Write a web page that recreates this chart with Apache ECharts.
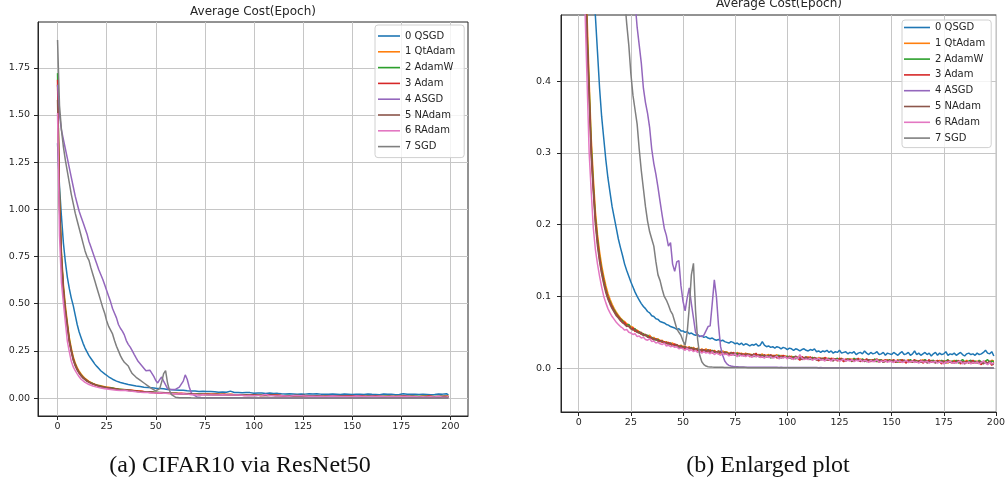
<!DOCTYPE html>
<html><head><meta charset="utf-8">
<script src="https://cdn.jsdelivr.net/npm/echarts@6/dist/echarts.min.js"></script>
<style>html,body{margin:0;padding:0;background:#fff}#c{width:1008px;height:485px}</style>
</head><body><div id="c"></div>
<script>
const seriesNames = ['0 QSGD','1 QtAdam','2 AdamW','3 Adam','4 ASGD','5 NAdam','6 RAdam','7 SGD'];
const seriesColors = ['#1f77b4','#ff7f0e','#2ca02c','#d62728','#9467bd','#8c564b','#e377c2','#7f7f7f'];
const xTicks = [0,25,50,75,100,125,150,175,200];
const yTicksLeft = [0,0.25,0.5,0.75,1.0,1.25,1.5,1.75];
const yTicksRight = [0,0.1,0.2,0.3,0.4];
const titleText = 'Average Cost(Epoch)';
const captionLeft = '(a) CIFAR10 via ResNet50';
const captionRight = '(b) Enlarged plot';

const qsgd = [
1.35,1.12,0.96,0.82,0.72,0.64,0.58,0.53,0.49,0.44,
0.39,0.35,0.32,0.29,0.265,0.245,0.225,0.21,0.195,0.18,
0.168,0.157,0.145,0.136,0.128,0.12,0.113,0.106,0.100,0.095,
0.090,0.086,0.083,0.079,0.077,0.073,0.072,0.069,0.068,0.065,
0.064,0.063,0.061,0.060,0.058,0.057,0.056,0.054,0.055,0.052,
0.052,0.050,0.051,0.048,0.049,0.047,0.046,0.047,0.044,0.045,
0.043,0.044,0.042,0.041,0.042,0.040,0.039,0.040,0.038,0.039,
0.037,0.036,0.035,0.037,0.036,0.034,0.035,0.033,0.035,0.032,
0.034,0.033,0.031,0.033,0.032,0.034,0.031,0.032,0.037,0.032,
0.030,0.031,0.029,0.030,0.028,0.030,0.029,0.027,0.029,0.028,
0.026,0.028,0.027,0.025,0.027,0.026,0.024,0.026,0.027,0.025,
0.024,0.026,0.025,0.027,0.023,0.024,0.022,0.024,0.023,0.025,
0.022,0.024,0.021,0.023,0.022,0.025,0.021,0.022,0.023,0.020,
0.022,0.021,0.023,0.019,0.021,0.022,0.020,0.024,0.021,0.019,
0.022,0.020,0.021,0.023,0.019,0.020,0.022,0.018,0.021,0.020,
0.019,0.022,0.020,0.018,0.021,0.023,0.019,0.020,0.022,0.018,
0.020,0.024,0.019,0.021,0.018,0.020,0.022,0.019,0.021,0.017,
0.020,0.022,0.018,0.021,0.019,0.020,0.023,0.018,0.020,0.019,
0.021,0.018,0.020,0.022,0.019,0.017,0.020,0.021,0.019,0.020,
0.018,0.021,0.019,0.020,0.022,0.025,0.021,0.020,0.023,0.017];

const qtadam = [
1.66,1.06,0.77,0.60,0.49,0.40,0.32,0.265,0.218,0.186,
0.162,0.143,0.128,0.115,0.104,0.096,0.089,0.083,0.078,0.074,
0.070,0.067,0.065,0.062,0.060,0.058,0.057,0.054,0.053,0.051,
0.049,0.048,0.046,0.045,0.046,0.042,0.043,0.040,0.041,0.038,
0.039,0.036,0.037,0.035,0.034,0.035,0.032,0.033,0.031,0.032,
0.030,0.031,0.028,0.030,0.027,0.029,0.026,0.028,0.025,0.027,
0.025,0.027,0.024,0.026,0.023,0.025,0.022,0.024,0.021,0.024,
0.022,0.023,0.020,0.022,0.021,0.019,0.022,0.020,0.021,0.018,
0.021,0.019,0.020,0.018,0.020,0.017,0.019,0.018,0.020,0.016,
0.018,0.019,0.016,0.018,0.017,0.019,0.015,0.018,0.016,0.017,
0.016,0.015,0.017,0.014,0.016,0.015,0.017,0.013,0.015,0.014,
0.016,0.013,0.015,0.014,0.012,0.015,0.013,0.014,0.012,0.014,
0.013,0.012,0.014,0.011,0.013,0.012,0.014,0.011,0.012,0.013,
0.011,0.013,0.010,0.012,0.011,0.013,0.010,0.012,0.011,0.009,
0.012,0.010,0.011,0.009,0.012,0.010,0.011,0.009,0.012,0.010,
0.011,0.009,0.010,0.012,0.008,0.011,0.009,0.010,0.012,0.009,
0.010,0.008,0.011,0.009,0.010,0.012,0.008,0.010,0.009,0.011,
0.008,0.010,0.009,0.011,0.008,0.010,0.009,0.007,0.010,0.009,
0.011,0.008,0.009,0.010,0.007,0.009,0.011,0.008,0.010,0.007,
0.009,0.010,0.007,0.009,0.008,0.010,0.007,0.009,0.011,0.010];

const adamw = [
1.722,1.04,0.75,0.58,0.47,0.39,0.31,0.255,0.21,0.18,
0.155,0.137,0.123,0.110,0.100,0.093,0.086,0.081,0.076,0.072,
0.069,0.066,0.062,0.060,0.061,0.056,0.054,0.055,0.050,0.051,
0.047,0.048,0.045,0.046,0.042,0.043,0.041,0.039,0.040,0.037,
0.038,0.035,0.036,0.034,0.035,0.031,0.033,0.032,0.029,0.031,
0.029,0.030,0.027,0.028,0.029,0.025,0.027,0.026,0.023,0.026,
0.024,0.025,0.023,0.021,0.025,0.022,0.023,0.020,0.024,0.021,
0.020,0.022,0.019,0.021,0.020,0.018,0.021,0.017,0.020,0.019,
0.017,0.020,0.018,0.019,0.016,0.019,0.017,0.015,0.018,0.017,
0.016,0.018,0.014,0.017,0.015,0.017,0.018,0.014,0.016,0.015,
0.017,0.014,0.015,0.016,0.013,0.015,0.014,0.016,0.012,0.015,
0.014,0.012,0.015,0.013,0.014,0.012,0.011,0.014,0.013,0.012,
0.014,0.011,0.013,0.012,0.014,0.010,0.013,0.012,0.011,0.013,
0.012,0.009,0.014,0.011,0.012,0.010,0.013,0.011,0.009,0.012,
0.011,0.010,0.013,0.009,0.011,0.012,0.008,0.011,0.010,0.012,
0.009,0.011,0.010,0.008,0.012,0.010,0.011,0.009,0.010,0.012,
0.009,0.011,0.010,0.008,0.011,0.009,0.012,0.010,0.008,0.010,
0.011,0.009,0.010,0.008,0.011,0.009,0.010,0.012,0.008,0.010,
0.009,0.011,0.007,0.010,0.012,0.009,0.008,0.010,0.011,0.009,
0.010,0.008,0.011,0.009,0.007,0.010,0.012,0.008,0.010,0.009];

const adam = [
1.687,1.02,0.74,0.57,0.46,0.38,0.30,0.25,0.205,0.175,
0.152,0.134,0.120,0.108,0.098,0.091,0.085,0.079,0.075,0.071,
0.068,0.063,0.064,0.059,0.058,0.055,0.056,0.051,0.052,0.049,
0.048,0.046,0.047,0.043,0.044,0.041,0.040,0.041,0.038,0.039,
0.036,0.037,0.034,0.036,0.033,0.032,0.034,0.030,0.031,0.029,
0.030,0.026,0.029,0.027,0.028,0.025,0.027,0.024,0.026,0.023,
0.026,0.024,0.022,0.025,0.021,0.024,0.022,0.020,0.023,0.021,
0.022,0.019,0.021,0.018,0.022,0.020,0.017,0.021,0.019,0.020,
0.018,0.020,0.016,0.019,0.017,0.021,0.016,0.018,0.015,0.019,
0.017,0.015,0.019,0.016,0.018,0.014,0.017,0.015,0.018,0.016,
0.014,0.017,0.015,0.013,0.016,0.014,0.011,0.016,0.014,0.015,
0.013,0.016,0.012,0.015,0.013,0.010,0.014,0.012,0.015,0.013,
0.011,0.014,0.012,0.013,0.010,0.014,0.012,0.009,0.013,0.011,
0.013,0.010,0.012,0.011,0.014,0.009,0.012,0.010,0.013,0.011,
0.009,0.012,0.010,0.013,0.008,0.011,0.010,0.012,0.009,0.011,
0.010,0.012,0.008,0.011,0.009,0.012,0.010,0.007,0.011,0.009,
0.010,0.012,0.008,0.010,0.011,0.007,0.010,0.009,0.012,0.008,
0.010,0.008,0.011,0.009,0.006,0.010,0.008,0.011,0.009,0.007,
0.010,0.008,0.011,0.006,0.009,0.008,0.010,0.007,0.009,0.011,
0.007,0.009,0.008,0.005,0.010,0.008,0.006,0.009,0.004,0.008];

const asgd = [
1.66,1.50,1.42,1.37,1.32,1.27,1.22,1.17,1.12,1.07,
1.03,0.99,0.96,0.93,0.90,0.87,0.83,0.80,0.77,0.74,
0.71,0.68,0.655,0.63,0.60,0.57,0.54,0.51,0.475,0.45,
0.425,0.39,0.37,0.355,0.335,0.305,0.285,0.27,0.252,0.232,
0.213,0.195,0.185,0.17,0.175,0.145,0.135,0.148,0.15,0.115,
0.093,0.08,0.098,0.112,0.09,0.07,0.05,0.046,0.045,0.044,
0.046,0.052,0.058,0.059,0.09,0.123,0.10,0.06,0.03,0.018,
0.010,0.006,0.004,0.003,0.0025,0.002,0.0019,0.0018,0.0017,0.0016,
0.0015,0.0015,0.0014,0.0015,0.0014,0.0014,0.0013,0.0014,0.0013,0.0013,
0.0013,0.0012,0.0013,0.0012,0.0012,0.0012,0.0011,0.0012,0.0011,0.0011,
0.0011,0.0011,0.0010,0.0011,0.0010,0.0010,0.0010,0.0010,0.0009,0.0010,
0.0009,0.0009,0.0009,0.0009,0.0009,0.0008,0.0009,0.0008,0.0008,0.0008,
0.0008,0.0008,0.0008,0.0007,0.0008,0.0007,0.0007,0.0007,0.0007,0.0007,
0.0007,0.0007,0.0006,0.0007,0.0006,0.0006,0.0006,0.0006,0.0006,0.0006,
0.0006,0.0006,0.0006,0.0005,0.0006,0.0005,0.0005,0.0005,0.0005,0.0005,
0.0005,0.0005,0.0005,0.0005,0.0005,0.0005,0.0004,0.0005,0.0004,0.0004,
0.0004,0.0004,0.0004,0.0004,0.0004,0.0004,0.0004,0.0004,0.0004,0.0004,
0.0004,0.0004,0.0004,0.0003,0.0004,0.0003,0.0003,0.0003,0.0003,0.0003,
0.0003,0.0003,0.0003,0.0003,0.0003,0.0003,0.0003,0.0003,0.0003,0.0003,
0.0003,0.0003,0.0003,0.0003,0.0002,0.0003,0.0002,0.0002,0.0002,0.0002];

const nadam = [
1.58,1.00,0.73,0.565,0.455,0.375,0.295,0.245,0.20,0.17,
0.148,0.131,0.117,0.105,0.096,0.089,0.083,0.078,0.073,0.070,
0.066,0.064,0.061,0.058,0.059,0.055,0.053,0.054,0.050,0.049,
0.050,0.045,0.047,0.044,0.042,0.043,0.039,0.041,0.038,0.037,
0.038,0.035,0.036,0.033,0.035,0.032,0.031,0.033,0.030,0.031,
0.028,0.030,0.027,0.029,0.026,0.028,0.025,0.027,0.024,0.026,
0.025,0.023,0.026,0.022,0.024,0.023,0.021,0.024,0.022,0.020,
0.023,0.021,0.019,0.022,0.020,0.021,0.018,0.020,0.019,0.017,
0.020,0.018,0.019,0.017,0.020,0.016,0.018,0.019,0.016,0.018,
0.016,0.017,0.018,0.015,0.017,0.016,0.014,0.017,0.015,0.016,
0.015,0.016,0.013,0.015,0.017,0.014,0.015,0.012,0.014,0.016,
0.013,0.014,0.012,0.015,0.011,0.013,0.014,0.012,0.013,0.011,
0.013,0.012,0.010,0.013,0.012,0.011,0.013,0.012,0.010,0.012,
0.011,0.012,0.010,0.013,0.011,0.010,0.012,0.009,0.011,0.012,
0.010,0.011,0.009,0.012,0.010,0.011,0.008,0.010,0.011,0.009,
0.011,0.010,0.009,0.011,0.010,0.008,0.011,0.010,0.009,0.010,
0.008,0.011,0.009,0.010,0.008,0.010,0.011,0.007,0.009,0.010,
0.009,0.007,0.010,0.008,0.010,0.009,0.007,0.010,0.008,0.009,
0.007,0.009,0.010,0.008,0.009,0.006,0.009,0.008,0.010,0.007,
0.009,0.007,0.010,0.008,0.006,0.009,0.007,0.010,0.006,0.005];

const radam = [
1.51,0.86,0.61,0.50,0.40,0.30,0.245,0.195,0.165,0.145,
0.128,0.113,0.100,0.091,0.083,0.077,0.072,0.068,0.064,0.061,
0.058,0.056,0.053,0.054,0.050,0.049,0.047,0.048,0.044,0.045,
0.042,0.043,0.040,0.039,0.041,0.037,0.038,0.035,0.036,0.034,
0.033,0.035,0.031,0.032,0.030,0.031,0.029,0.030,0.027,0.028,
0.027,0.025,0.028,0.024,0.026,0.023,0.025,0.022,0.024,0.021,
0.023,0.021,0.022,0.020,0.023,0.019,0.021,0.020,0.018,0.021,
0.019,0.020,0.017,0.019,0.018,0.020,0.016,0.019,0.017,0.018,
0.016,0.018,0.017,0.015,0.018,0.016,0.017,0.015,0.016,0.014,
0.017,0.015,0.016,0.014,0.015,0.017,0.013,0.015,0.014,0.016,
0.013,0.015,0.014,0.012,0.015,0.013,0.019,0.014,0.012,0.013,
0.012,0.014,0.011,0.013,0.012,0.014,0.011,0.012,0.010,0.013,
0.012,0.010,0.013,0.011,0.012,0.010,0.011,0.013,0.010,0.011,
0.010,0.012,0.009,0.011,0.010,0.012,0.009,0.011,0.010,0.008,
0.011,0.009,0.010,0.012,0.008,0.010,0.009,0.011,0.008,0.010,
0.009,0.008,0.011,0.009,0.010,0.008,0.009,0.011,0.008,0.009,
0.010,0.008,0.009,0.007,0.010,0.009,0.008,0.010,0.007,0.009,
0.008,0.010,0.007,0.009,0.008,0.006,0.009,0.008,0.010,0.007,
0.008,0.007,0.009,0.010,0.006,0.008,0.007,0.009,0.006,0.008,
0.007,0.009,0.006,0.008,0.010,0.007,0.005,0.008,0.006,0.007];

const sgd = [
1.898,1.55,1.42,1.33,1.26,1.20,1.14,1.08,1.03,0.98,
0.94,0.90,0.86,0.82,0.78,0.75,0.73,0.69,0.655,0.62,
0.585,0.55,0.515,0.48,0.45,0.41,0.38,0.36,0.34,0.305,
0.275,0.25,0.225,0.205,0.19,0.18,0.17,0.148,0.13,0.122,
0.11,0.10,0.095,0.088,0.08,0.075,0.065,0.055,0.05,0.046,
0.038,0.032,0.05,0.085,0.13,0.146,0.08,0.04,0.018,0.009,
0.005,0.003,0.002,0.0018,0.0016,0.0015,0.0014,0.0013,0.0012,0.0012,
0.0011,0.0011,0.0010,0.0010,0.0010,0.0010,0.0009,0.0009,0.0009,0.0009,
0.0009,0.0008,0.0008,0.0008,0.0008,0.0008,0.0008,0.0007,0.0007,0.0007,
0.0007,0.0007,0.0007,0.0007,0.0006,0.0006,0.0006,0.0006,0.0006,0.0006,
0.0006,0.0006,0.0006,0.0005,0.0005,0.0005,0.0005,0.0005,0.0005,0.0005,
0.0005,0.0005,0.0005,0.0005,0.0005,0.0004,0.0004,0.0004,0.0004,0.0004,
0.0004,0.0004,0.0004,0.0004,0.0004,0.0004,0.0004,0.0004,0.0004,0.0004,
0.0004,0.0004,0.0003,0.0004,0.0003,0.0003,0.0003,0.0003,0.0003,0.0003,
0.0003,0.0003,0.0003,0.0003,0.0003,0.0003,0.0003,0.0003,0.0003,0.0003,
0.0003,0.0003,0.0003,0.0003,0.0003,0.0003,0.0002,0.0003,0.0003,0.0002,
0.0002,0.0002,0.0002,0.0002,0.0002,0.0002,0.0002,0.0002,0.0002,0.0002,
0.0002,0.0002,0.0002,0.0002,0.0002,0.0002,0.0002,0.0002,0.0002,0.0002,
0.0002,0.0002,0.0002,0.0002,0.0002,0.0002,0.0002,0.0002,0.0002,0.0002,
0.0002,0.0002,0.0002,0.0002,0.0002,0.0002,0.0002,0.0002,0.0002,0.0002];

const allValues = [qsgd, qtadam, adamw, adam, asgd, nadam, radam, sgd];

const chart = echarts.init(document.getElementById('c'), null, {renderer: 'canvas'});
const FONT = 'DejaVu Sans';
const ink = '#262626';

function xAxis(grid, min, max, margin) {
  return {
    type: 'value', gridIndex: grid, min: min, max: max,
    axisLine: {show: true, onZero: false, lineStyle: {color: ink, width: 1}},
    axisTick: {show: true, length: 4, customValues: xTicks, lineStyle: {color: ink, width: 1}},
    axisLabel: {customValues: xTicks, fontSize: 9.5, color: ink, fontFamily: FONT, margin: margin},
    splitLine: {show: true, lineStyle: {color: '#c6c6c6', width: 1}}
  };
}
function yAxis(grid, min, max, ticks, digits, margin) {
  return {
    type: 'value', gridIndex: grid, min: min, max: max,
    axisLine: {show: true, onZero: false, lineStyle: {color: ink, width: 1}},
    axisTick: {show: true, length: 4, customValues: ticks, lineStyle: {color: ink, width: 1}},
    axisLabel: {customValues: ticks, fontSize: 9.5, color: ink, fontFamily: FONT, margin: margin,
      formatter: v => Number(v).toFixed(digits)},
    splitLine: {show: true, lineStyle: {color: '#c6c6c6', width: 1}}
  };
}

const series = [];
[0, 1].forEach(g => {
  allValues.forEach((vals, k) => {
    series.push({
      type: 'line', name: seriesNames[k], xAxisIndex: g, yAxisIndex: g,
      data: vals.map((v, i) => [i, v]),
      symbol: 'none', showSymbol: false, clip: true,
      lineStyle: {width: 1.5, color: seriesColors[k]},
      itemStyle: {color: seriesColors[k]},
      emphasis: {disabled: true}
    });
  });
});

function legend(left, top, itemWidth, padding) {
  return {
    orient: 'vertical', left: left, top: top, itemWidth: itemWidth, itemHeight: 1.6, itemGap: 3.8,
    icon: 'rect',
    padding: padding, backgroundColor: 'rgba(255,255,255,0.8)', borderColor: '#d0d0d0',
    borderWidth: 1, borderRadius: 3, selectedMode: false,
    textStyle: {fontSize: 10, color: ink, fontFamily: FONT, lineHeight: 12},
    data: seriesNames
  };
}

chart.setOption({
  animation: false,
  backgroundColor: '#ffffff',
  grid: [
    {left: 38, top: 22, width: 430, height: 394, show: true, borderColor: ink, borderWidth: 1, backgroundColor: 'transparent'},
    {left: 561, top: 15, width: 436, height: 397, show: true, borderColor: ink, borderWidth: 1, backgroundColor: 'transparent'}
  ],
  xAxis: [xAxis(0, -9.95, 208.95, 6), xAxis(1, -8.5, 200.2, 6)],
  yAxis: [yAxis(0, -0.0949, 1.9929, yTicksLeft, 2, 8), yAxis(1, -0.061, 0.492, yTicksRight, 1, 10)],
  legend: [legend(375, 25, 22, [5, 9, 5, 3]), legend(902, 20, 26, [1.5, 6, 3.5, 2])],
  series: series,
  graphic: [
    {type: 'text', x: 253, y: 12, silent: true,
      style: {text: titleText, x: 0, y: 0, align: 'center', verticalAlign: 'middle', fontSize: 12, fontFamily: FONT, fill: ink}},
    {type: 'text', x: 779, y: 4, silent: true,
      style: {text: titleText, x: 0, y: 0, align: 'center', verticalAlign: 'middle', fontSize: 12, fontFamily: FONT, fill: ink}},
    {type: 'text', x: 240, y: 466, silent: true,
      style: {text: captionLeft, x: 0, y: 0, align: 'center', verticalAlign: 'middle', fontSize: 24, fontFamily: 'Liberation Serif', fill: '#111'}},
    {type: 'text', x: 768, y: 466, silent: true,
      style: {text: captionRight, x: 0, y: 0, align: 'center', verticalAlign: 'middle', fontSize: 24, fontFamily: 'Liberation Serif', fill: '#111'}}
  ]
});
</script>
</body></html>
